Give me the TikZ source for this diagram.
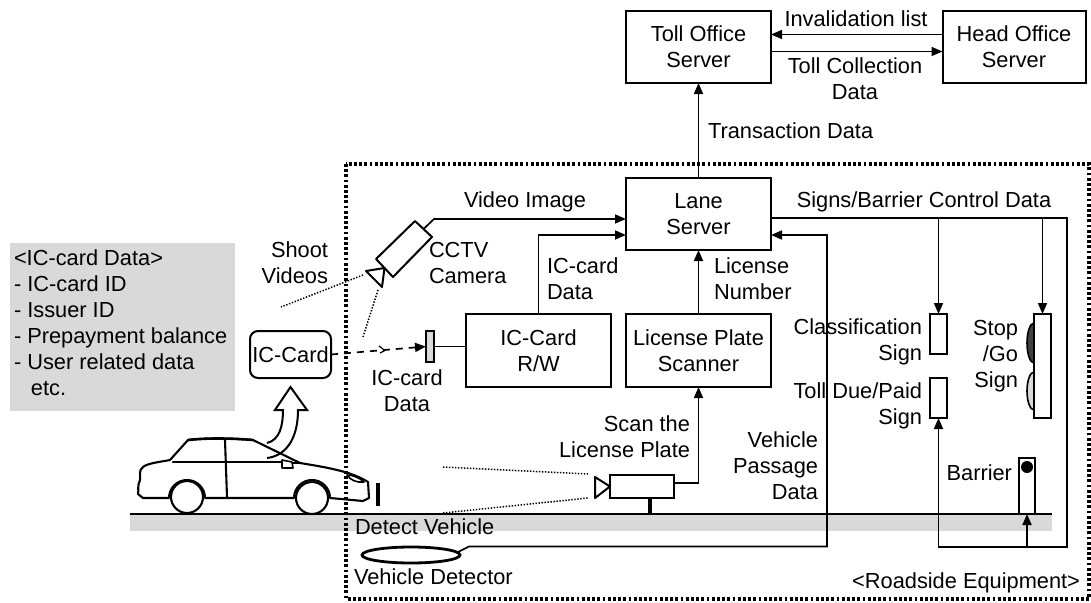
\documentclass[tikz,border=0pt]{standalone}
\usepackage{fontspec}
\setmainfont{Liberation Sans}
\usetikzlibrary{arrows.meta,calc}
\definecolor{panel}{RGB}{217,217,217}
\definecolor{lampdark}{RGB}{64,64,64}
\begin{document}
\begin{tikzpicture}[x=1pt,y=-1pt,
  every node/.style={inner sep=0pt, outer sep=0pt, font=\fontsize{21.8pt}{26pt}\selectfont},
  box/.style={draw, line width=2pt, minimum width=145pt, minimum height=72pt, align=center},
  wire/.style={line width=1.7pt},
  arr/.style={wire, -{Triangle[length=11pt,width=9pt]}},
  sight/.style={line width=1.5pt, dash pattern=on 1.4pt off 1.6pt},
  txt/.style={align=center},
  txtl/.style={align=left, anchor=west},
  txtr/.style={align=right, anchor=east},
  car/.style={line width=2.1pt, line join=round, line cap=round},
  roadside/.style={line width=3.2pt, dash pattern=on 2.8pt off 2.4pt}
]
\useasboundingbox (0,0) rectangle (1091,602);

% ---------- ground ----------
\fill[panel] (130,514) rectangle (1052,531);
\draw[line width=2.2pt] (130,514) -- (1052,514);

% ---------- roadside equipment frame ----------
\draw[roadside] (346,164) rectangle (1089,599);
\node[anchor=east] (rse) at (1080,583) {<Roadside Equipment>};

% ---------- servers ----------
\node[box] (toll) at (698.5,47) {Toll Office\\Server};
\node[box, minimum width=143pt] (head) at (1014,47) {Head Office\\Server};
\node[box] (lane) at (698.5,214) {Lane\\Server};
\node[box, minimum height=73pt] (rw) at (538.5,350.5) {IC-Card\\R/W};
\node[box, minimum height=73pt] (lps) at (698.5,350.5) {License Plate\\Scanner};

\draw[arr] ([yshift=12.5pt]head.west) -- ([yshift=12.5pt]toll.east);
\draw[arr] ([yshift=-4.5pt]toll.east) -- ([yshift=-4.5pt]head.west);
\node[txt] (lInv) at (856,19) {Invalidation list};
\node[txt] (lTcd) at (855,79) {Toll Collection\\Data};

\draw[arr] (lane.north) -- (toll.south);
\node[anchor=west] (lTrans) at (708,131) {Transaction Data};

% ---------- IC card side ----------
\node[draw, line width=2pt, rounded corners=8pt, minimum width=81pt, minimum height=47pt] (iccard) at (290.5,354.5) {IC-Card};
\node[draw, line width=1.6pt, fill=panel, minimum width=8pt, minimum height=31pt] (ant) at (430,346.5) {};
\draw[wire] (ant.east) -- (ant.east -| rw.west);
\draw[wire, dash pattern=on 7pt off 6pt, -{Triangle[length=11pt,width=9pt]}] (iccard.east) -- (ant.west);
\draw[line width=1.2pt] (379,346) -- (385,350.5) -- (380,353);
\node[txt] (lIcd2) at (407,391) {IC-card\\Data};

\draw[arr] (rw.north) |- ([yshift=-21pt]lane.west);
\node[txtl] (lIcd1) at (547,279) {IC-card\\Data};

\draw[arr] (lps.north) -- (lane.south);
\node[txtl] (lLic) at (714,279) {License\\Number};

% ---------- data panel ----------
\fill[panel] (10,243) rectangle (235,411);
\node[txtl] (icdata) at (14,323) {<IC-card Data>\\- IC-card ID\\- Issuer ID\\- Prepayment balance\\- User related data\\\hspace*{17pt}etc.};

% ---------- CCTV camera ----------
\coordinate (c1) at (415,221);
\coordinate (c2) at (432,237);
\coordinate (c3) at (393,277);
\coordinate (c4) at (376,259);
\draw[line width=2pt, line join=round] (c1) -- (c2) -- (c3) -- (c4) -- cycle;
\draw[line width=2pt, line join=round] (384.5,268) -- (366,271) -- (382,287) -- cycle;
\coordinate (camout) at (423.5,229);
\coordinate (cambend) at (434,219);
\draw[arr] (camout) -- (cambend) -- (cambend -| lane.west);
\node[txt] (lVid) at (525,202) {Video Image};
\node[txtl] (lCctv) at (429,263) {CCTV\\Camera};
\node[txtr] (lShoot) at (328,263) {Shoot\\Videos};
\draw[sight] (363,275) -- (281,307);
\draw[sight] (378,290) -- (363,337);

% ---------- license plate camera ----------
\draw[line width=2pt] (610,475) rectangle (674,498);
\draw[line width=2pt, line join=round] (610,486.5) -- (595,477) -- (595,498) -- cycle;
\draw[line width=3.5pt] (650,498) -- (650,514);
\coordinate (lpout) at (674,483);
\draw[arr] (lpout) -| (lps.south);
\node[txtr] (lScan) at (690,437) {Scan the\\License Plate};
\draw[sight] (443,467) -- (588,474);
\draw[sight] (443,513) -- (588,498);

% ---------- signs and barrier ----------
\node[draw, line width=2pt, minimum width=17pt, minimum height=40pt] (cls) at (938.5,334) {};
\node[draw, line width=2pt, minimum width=17pt, minimum height=40pt] (due) at (938.5,398) {};
\filldraw[line width=1.6pt, fill=lampdark] (1034,323) arc[start angle=90, end angle=270, x radius=7pt, y radius=20pt];
\filldraw[line width=1.6pt, fill=panel] (1034,372) arc[start angle=90, end angle=270, x radius=7pt, y radius=19pt];
\node[draw, line width=2pt, minimum width=17pt, minimum height=104pt] (stop) at (1042.5,366) {};
\node[draw, line width=2pt, minimum width=16pt, minimum height=56pt] (bar) at (1027,486) {};
\fill (1027,467) circle[radius=6pt];

\node[txtr] (lCls) at (922,342) {Classification\\Sign};
\node[txtr] (lDue) at (922,406) {Toll Due/Paid\\Sign};
\node[txtr] (lStop) at (1018,356) {Stop\\/Go\\Sign};
\node[txtr] (lBar) at (1012,473) {Barrier};

\coordinate (sgTop) at (1067,218);
\coordinate (sgBot) at (1067,547);
\coordinate (sgDue) at (938.5,547);
\draw[arr] ([yshift=-4pt]lane.east) -- (sgTop) -- (sgBot) -- (sgDue) -- (due.south);
\draw[arr] (cls.north |- sgTop) -- (cls.north);
\draw[arr] (stop.north |- sgTop) -- (stop.north);
\draw[arr] (bar.south |- sgBot) -- (bar.south);
\node[txt] (lSig) at (924,202) {Signs/Barrier Control Data};

% ---------- vehicle detector ----------
\draw[line width=2.8pt] (411,555) ellipse[x radius=49pt, y radius=8pt];
\coordinate (loopEnd) at (458,552);
\coordinate (vpBend) at (469,546.5);
\coordinate (vpCorner) at (827,546.5);
\draw[arr] (loopEnd) -- (vpBend) -- (vpCorner) |- ([yshift=-21pt]lane.east);
\node[txtr] (lVpd) at (818,466) {Vehicle\\Passage\\Data};
\node[anchor=west] (lDet) at (355,527) {Detect Vehicle};
\node[anchor=west] (lDetr) at (354,577) {Vehicle Detector};

% ---------- car ----------
\draw[car] (143,498) -- (169,498) arc[start angle=180, end angle=0, radius=18pt]
  -- (294,498) arc[start angle=180, end angle=0, radius=18pt]
  -- (363,501) -- (369,498) -- (368,482)
  .. controls (360,477) and (350,473) .. (337,470)
  .. controls (325,467) and (312,465) .. (300,463)
  -- (253,440) .. controls (230,438) and (205,438) .. (188,440)
  -- (170,460) .. controls (160,462) and (148,463) .. (143,467)
  .. controls (138,471) and (141,475) .. (140,480)
  .. controls (137,486) and (139,490) .. (138,494)
  -- (143,498);
\draw[car, line width=2.6pt] (188,440) .. controls (205,438) and (230,438) .. (253,440);
\draw[car] (187,497) circle[radius=16pt];
\draw[car] (312,498) circle[radius=16pt];
\draw[car] (173,462) -- (282,462);
\draw[car] (293,463) -- (300,463);
\draw[car] (225,440) -- (227,497);
\draw[car, line width=1.6pt] (282,460) -- (292,462) -- (293,468) -- (282,468) -- cycle;
\draw[car, line width=1.6pt] (347,475) .. controls (353,475) and (360,478) .. (364,482) .. controls (357,483) and (350,480) .. (347,475);
\draw[line width=4pt] (378,483) -- (378,506);

% hollow arrow lifting the card out of the vehicle
\draw[line width=2pt, line join=miter] (267,443) .. controls (280,440) and (283,425) .. (283,410)
  -- (275,410) -- (290.5,387) -- (307,410) -- (298,410)
  .. controls (298,440) and (285,456) .. (267,458);
\end{tikzpicture}
\end{document}
